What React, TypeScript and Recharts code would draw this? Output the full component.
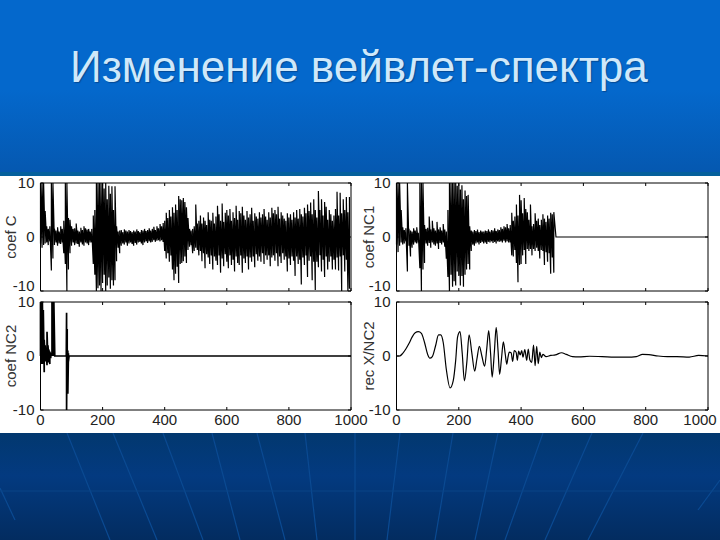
import { Line, LineChart, XAxis, YAxis } from 'recharts';

const xTicks = [0, 200, 400, 600, 800, 1000];
const yTicks = [-10, 0, 10];

// panel C, envelope read every 5 samples
const coefCHigh = [
  10, 10, 10, 4.8, 2, 1.5, 2, 10, 10, 1.5,
  1.2, 1.8, 1, 2, 1.5, 3, 10, 10, 3.5, 3.2,
  2, 1.5, 1.6, 2.5, 1.2, 1, 1.7, 1.3, 2, 1.6,
  1.4, 1.5, 1, 1.5, 4, 5, 10, 10, 10, 10,
  10, 9, 10, 7, 9.5, 8, 9.4, 5, 9.4, 2,
  1, 1.2, 1.3, 0.9, 1.4, 1.2, 1, 1.3, 1.1, 0.9,
  1.2, 1, 1.4, 1.1, 0.9, 1.3, 1.2, 1.5, 1.1, 1.3,
  1.6, 1.2, 1.5, 1.9, 1.3, 2, 1.6, 2.4, 2, 2.6,
  3, 4.5, 3.5, 5, 3.8, 5.5, 4.5, 6, 5, 7.6,
  7, 6.8, 7.2, 6.5, 5.5, 3.5, 1.5, 1.2, 1.5, 2,
  6, 2.5, 3, 4, 2.5, 3.6, 3, 2.2, 4.6, 3.2,
  3, 4.5, 2.5, 3.8, 5.8, 4.2, 3, 6.2, 2.8, 4.5,
  5, 4, 5.2, 3, 4.6, 3.5, 5.8, 3.2, 4.8, 4.4,
  5.6, 4, 3.2, 4.8, 3.6, 4.2, 5.4, 3, 4.4, 3.8,
  3.4, 4.6, 3.6, 4.2, 5.2, 3.8, 3.2, 4.6, 3.6, 5.4,
  4.4, 5, 4.2, 5.6, 3.4, 4.6, 4, 3.4, 3, 4.4,
  3.6, 4.2, 3.2, 4.6, 3.6, 5, 3.4, 5.2, 4.2, 3.8,
  5.4, 4.4, 6, 4.8, 6.4, 4.2, 7, 5, 3.6, 8.5,
  5, 7, 4, 6.5, 5.6, 3.2, 5, 4.2, 3, 4,
  5.2, 8.4, 4, 8.2, 4.4, 7, 5, 7.4, 4.6, 7.4,
];
const coefCLow = [
  -1.2, -2, -1.5, -1.2, -1, -1.5, -0.8, -6.2, -4, -1.5,
  -1, -1.6, -1.2, -1.3, -1, -3, -5, -10, -6, -3,
  -1.6, -1, -1.5, -1.2, -1.3, -1.8, -1, -1.4, -1.6, -1,
  -1.2, -1.5, -1, -1, -5, -7, -10, -9.5, -9, -10,
  -8.5, -7, -10, -9, -7.5, -9.6, -8, -9, -8, -4.5,
  -2, -3, -1.6, -1.2, -1.4, -1, -1.6, -1.2, -1, -1.3,
  -1.6, -1.1, -1.4, -1, -0.9, -1.2, -1.5, -1, -0.8, -1.1,
  -0.8, -1, -0.9, -0.6, -0.9, -0.7, -0.6, -0.8, -0.6, -0.9,
  -2.6, -4, -3, -4.6, -3.4, -6, -8, -6.8, -5.5, -8.5,
  -5, -4.8, -4.5, -3.6, -4.8, -2.4, -1.8, -1.5, -3, -2.6,
  -2, -2.4, -3.4, -2.6, -4.5, -3, -5.8, -3.2, -3.8, -5,
  -3.4, -6, -3.6, -4.4, -5.2, -3.4, -6.6, -4, -5.4, -3.2,
  -4.6, -5.8, -3.4, -5.2, -4.2, -6.4, -3.6, -4.8, -5.2, -3.4,
  -6.6, -4, -4.8, -3.6, -6, -3.8, -4.6, -3.6, -5.6, -3.2,
  -4.4, -3.6, -4.6, -3, -5, -3.4, -4.2, -3.4, -5.4, -3.8,
  -3.4, -4.4, -3, -5.4, -3.6, -4.8, -3, -4.2, -3.6, -6.4,
  -4, -5.2, -3.6, -4.4, -7.2, -3.6, -5, -4.2, -8.8, -3.8,
  -5.2, -3.4, -7.4, -4.4, -3.6, -8, -4.6, -9.8, -4.6, -5.6,
  -3.4, -6.4, -4.2, -7.4, -3.6, -6, -4.6, -3.6, -6, -4.2,
  -6, -3.8, -6.2, -3.6, -10, -3.4, -6.4, -4.2, -10, -9.6,
];

// panel NC1, noisy up to sample 510 and flat after that
const coefNC1High = [
  10, 10, 10, 5, 1.8, 1.3, 1.6, 10, 1.5, 1.2,
  1, 1.6, 1.2, 1.8, 0.8, 10, 10, 10, 2.2, 1.5,
  1.7, 3.8, 1.4, 3, 1.6, 1.2, 2.8, 1.4, 1.8, 1.2,
  2.4, 1.4, 1, 5, 10, 10, 10, 10, 10, 9.5,
  10, 8.8, 9.6, 7, 8.6, 7.6, 7.8, 2, 1.2, 1,
  1.3, 1.1, 1.4, 0.9, 1.2, 1, 1, 1.2, 1.1, 1.4,
  1, 1.3, 1.2, 1.6, 1.1, 1.4, 1.3, 1.8, 1.5, 2,
  1.8, 2.4, 1.6, 2.2, 4.5, 3, 3.8, 6, 4, 7.8,
  6.8, 4.4, 7.2, 5.2, 4.6, 3.2, 6, 2, 2.4, 4.4,
  3, 3.4, 2.2, 3.2, 4.2, 3.4, 2.8, 4, 3.4, 4.5,
  4.2, 4.6,
];
const coefNC1Low = [
  -1.4, -2.8, -1.6, -1, -1.4, -1.2, -0.8, -6.4, -1.6, -3.6,
  -2, -1.4, -1, -1.2, -1, -5.8, -10, -6, -4.8, -1.2,
  -1.6, -1.1, -2, -1, -1.4, -1.6, -1.2, -2.2, -1.1, -1.4,
  -1, -1.8, -4, -7.4, -10, -7, -9.2, -8.2, -9, -6.4,
  -7.2, -9, -7.2, -9.2, -7, -6, -5, -6, -2.6, -1.4,
  -1.6, -1.2, -1, -1.4, -1.1, -0.9, -1.2, -1, -1.3, -0.9,
  -1, -0.8, -1.1, -0.9, -1.2, -0.8, -0.9, -0.8, -1, -0.7,
  -1, -0.8, -1, -1, -3.4, -3.6, -2.4, -4.8, -8.4, -5.2,
  -5, -3.4, -2.4, -5, -2.2, -2.6, -2.2, -3.4, -2.2, -2.6,
  -2, -2.6, -4, -2.4, -2.6, -5.2, -2.8, -4.6, -3, -6.8,
  -3.8, -6.6,
];
const flatX = [512, 1000];
const flatValues = [0, 0];

// panel NC2, spikes only at the start
const coefNC2X = [0, 0, 3, 3, 6, 6, 9, 9, 12, 12, 15, 15, 18, 18, 21, 21, 24, 24, 27, 27, 30, 30, 33, 33, 37, 37, 40, 40, 43, 43, 46, 83, 84, 84, 86, 86, 88, 88, 90, 90, 92, 1000];
const coefNC2Values = [0, 10, -1.5, 10, -1.5, 10, -1, 8.5, -3, 3, -1, 2, -1, 1, -1.7, 4.5, -1.2, 2, -0.6, 1.2, -1.5, 0.8, -0.4, 0.6, 0, 10, 0, 10, 0, 10, 0, 0, 8, -10, 5, -4, 1, -7, 0.5, -1, 0, 0];

// panel rec X/NC2
const recX = [0, 10, 20, 30, 40, 50, 60, 70, 80, 90, 100, 107, 115, 125, 135, 142, 150, 160, 172, 182, 190, 196, 204, 211, 218, 226, 233, 242, 251, 258, 266, 274, 283, 290, 296, 302, 307, 314, 320, 326, 331, 337, 343, 349, 354, 358, 362, 368, 373, 378, 384, 388, 392, 397, 402, 406, 412, 418, 423, 428, 434, 440, 445, 450, 455, 460, 465, 470, 480, 495, 510, 530, 545, 565, 585, 620, 660, 700, 740, 770, 790, 810, 840, 870, 900, 940, 970, 1000];
const recValues = [0, 0, 0.5, 1.3, 2.3, 3.5, 4.3, 4.5, 4.2, 2.5, 0.3, -0.4, -0.1, 1.8, 3.9, 3.9, 2.5, -2.5, -5.9, -4.6, -0.8, 3.5, 4.5, 0.5, -4.6, -1, 3.9, 0.5, -2.8, -0.6, 1.8, 0, -1.9, 1.5, 4.7, 0.5, -3.9, 0.6, 5.3, 1, -3.4, -0.5, 2.6, 0.4, -1.5, -0.2, 0.7, 0.6, -1, 1, 0.7, -0.8, 0.9, 0.2, 1, -0.2, 1.2, -0.8, 1.3, -0.7, -1.2, 2, -1.8, 1.8, -1.4, 0.7, -0.3, 0.3, -0.1, 0.1, 0.2, 0.6, 0.3, -0.1, -0.15, -0.05, -0.1, -0.2, -0.2, -0.1, 0.3, 0.25, 0, -0.1, -0.1, -0.2, 0.1, 0];

const bandSegments = [
  [67, 433, 110, 540], [113, 433, 157, 540], [163, 433, 203, 540], [212, 433, 240, 540],
  [257, 433, 285, 540], [305, 433, 317, 540], [355, 433, 355, 540], [400, 433, 387, 540],
  [453, 433, 435, 540], [498, 433, 475, 540], [543, 433, 505, 540], [592, 433, 545, 540],
  [643, 433, 588, 540], [720, 480, 698, 510], [0, 488, 15, 520],
];

type Point = { x: number; y: number };

// each sample becomes a low-high pair so the line draws the vertical strokes
function envelopeTable(high: number[], low: number[], tailX: number[], tailY: number[]) {
  const rows: Point[] = [];
  high.forEach((value, i) => {
    rows.push({ x: i * 5, y: low[i] });
    rows.push({ x: i * 5, y: value });
  });
  tailX.forEach((x, i) => rows.push({ x, y: tailY[i] }));
  return rows;
}

function seriesTable(xs: number[], ys: number[]) {
  return xs.map((x, i) => ({ x, y: ys[i] }));
}

const noLabel = () => <g />;

type PanelProps = {
  left: number;
  top: number;
  plotWidth: number;
  label: string;
  labelShift: number;
  lastTickShift: number;
  data: Point[];
  xLabels: boolean;
  strokeWidth: number;
  curve: 'linear' | 'monotone';
};

function Panel({ left, top, plotWidth, label, labelShift, lastTickShift, data, xLabels, strokeWidth, curve }: PanelProps) {
  const tickStyle = { fill: '#222', fontSize: 15, fontFamily: 'Liberation Sans' };
  const axisLine = { stroke: '#000', strokeWidth: 1 };
  const tickLine = { stroke: '#000' };
  const chartWidth = 40.5 + plotWidth + 21;

  const yTick = (props: any) => (
    <text
      x={props.x}
      y={props.y + (!xLabels && props.payload.value === -10 ? -5 : 0)}
      dy={5}
      textAnchor="end"
      {...tickStyle}
    >
      {props.payload.value}
    </text>
  );

  const xTick = (props: any) => (
    <text
      x={props.x + (props.payload.value === 1000 ? lastTickShift : 0)}
      y={props.y}
      dy={13}
      textAnchor="middle"
      {...tickStyle}
    >
      {props.payload.value}
    </text>
  );

  return (
    <div style={{ position: 'absolute', left, top }}>
      <LineChart
        width={chartWidth}
        height={148}
        data={data}
        margin={{ top: 12, right: 20, bottom: 7, left: 0 }}
      >
        <XAxis
          dataKey="x"
          type="number"
          domain={[0, 1000]}
          ticks={xTicks}
          xAxisId="bottom"
          height={20}
          tickSize={-3}
          tickMargin={5}
          tick={xLabels ? xTick : noLabel}
          axisLine={axisLine}
          tickLine={tickLine}
          interval={0}
        />
        <XAxis
          dataKey="x"
          type="number"
          domain={[0, 1000]}
          ticks={xTicks}
          xAxisId="top"
          orientation="top"
          height={1}
          tickSize={-3}
          tick={noLabel}
          axisLine={axisLine}
          tickLine={tickLine}
          interval={0}
        />
        <YAxis
          dataKey="y"
          type="number"
          domain={[-10, 10]}
          ticks={yTicks}
          yAxisId="left"
          width={40.5}
          tickSize={-3}
          tickMargin={9}
          tick={yTick}
          axisLine={axisLine}
          tickLine={tickLine}
          interval={0}
          label={{
            value: label,
            angle: -90,
            position: 'insideLeft',
            offset: 0,
            dx: labelShift,
            style: { fill: '#333', fontSize: 15, fontFamily: 'Liberation Sans', textAnchor: 'middle' },
          }}
        />
        <YAxis
          dataKey="y"
          type="number"
          domain={[-10, 10]}
          ticks={yTicks}
          yAxisId="right"
          orientation="right"
          width={1}
          tickSize={-3}
          tick={noLabel}
          axisLine={axisLine}
          tickLine={tickLine}
          interval={0}
        />
        <Line
          xAxisId="bottom"
          yAxisId="left"
          dataKey="y"
          type={curve}
          stroke="#000"
          strokeWidth={strokeWidth}
          dot={false}
          isAnimationActive={false}
        />
      </LineChart>
    </div>
  );
}

export default function App() {
  return (
    <div
      style={{
        position: 'absolute',
        left: 0,
        top: 0,
        width: 720,
        height: 540,
        overflow: 'hidden',
        background: 'linear-gradient(#0468cc 0, #0468cc 90px, #0558b0 172px, #03306a 433px, #032a5e 540px)',
      }}
    >
      <div
        style={{
          position: 'absolute',
          left: 70,
          top: 42,
          width: 640,
          whiteSpace: 'nowrap',
          color: '#cfe8fa',
          fontFamily: 'Liberation Sans',
          fontSize: 44,
          lineHeight: '50px',
          textShadow: '1px 1px 1px #034a96',
        }}
      >
        Изменение вейвлет-спектра
      </div>
      <div style={{ position: 'absolute', left: 0, top: 172, width: 720, height: 4, background: '#04609c' }} />
      <div style={{ position: 'absolute', left: 0, top: 176, width: 720, height: 257, background: '#fff' }} />
      <div style={{ position: 'absolute', left: 0, top: 433, width: 720, height: 107, background: 'linear-gradient(#02386f, #033a80 40%, #032c60)' }} />
      <svg width={720} height={107} style={{ position: 'absolute', left: 0, top: 433 }}>
        {bandSegments.map(([x1, y1, x2, y2]) => (
          <line key={x1} x1={x1} y1={y1 - 433} x2={x2} y2={y2 - 433} stroke="#0b4a92" strokeWidth={1.2} />
        ))}
        <line x1={0} y1={58} x2={720} y2={58} stroke="#0a4486" strokeWidth={1} />
      </svg>
      <Panel left={0} top={170} plotWidth={310.5} label="coef C" labelShift={11} lastTickShift={0} data={envelopeTable(coefCHigh, coefCLow, [], [])} xLabels={false} strokeWidth={1.2} curve="linear" />
      <Panel left={356} top={170} plotWidth={311.5} label="coef NC1" labelShift={13} lastTickShift={-8} data={envelopeTable(coefNC1High, coefNC1Low, flatX, flatValues)} xLabels={false} strokeWidth={1.2} curve="linear" />
      <Panel left={0} top={289} plotWidth={310.5} label="coef NC2" labelShift={11} lastTickShift={0} data={seriesTable(coefNC2X, coefNC2Values)} xLabels strokeWidth={1.7} curve="linear" />
      <Panel left={356} top={289} plotWidth={311.5} label="rec X/NC2" labelShift={13} lastTickShift={-8} data={seriesTable(recX, recValues)} xLabels strokeWidth={1.2} curve="monotone" />
    </div>
  );
}
